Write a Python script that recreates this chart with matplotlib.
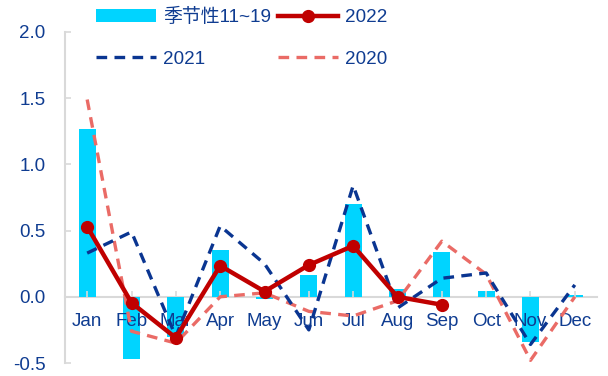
import matplotlib
matplotlib.use("Agg")
import matplotlib.pyplot as plt
import numpy as np

plt.rcParams['font.family'] = ['Liberation Sans', 'Noto Sans CJK SC', 'DejaVu Sans']

months = ["Jan", "Feb", "Mar", "Apr", "May", "Jun", "Jul", "Aug", "Sep", "Oct", "Nov", "Dec"]
seasonal = [1.27, -0.47, -0.30, 0.355, -0.02, 0.165, 0.70, 0.06, 0.34, 0.045, -0.34, 0.015]
y2022 = [0.53, -0.045, -0.31, 0.235, 0.04, 0.24, 0.385, 0.0, -0.06]
y2021 = [0.33, 0.49, -0.30, 0.535, 0.25, -0.25, 0.84, -0.085, 0.14, 0.18, -0.36, 0.09]
y2020 = [1.49, -0.26, -0.35, 0.0, 0.03, -0.11, -0.145, -0.03, 0.42, 0.17, -0.48, 0.0]

navy = '#0F3C91'
fig = plt.figure(figsize=(6.08, 3.76), dpi=100)
ax = fig.add_axes([65/608, 1-363/376, (597-65)/608, (363-32)/376])

x = np.arange(len(months))
b = ax.bar(x, seasonal, width=0.38, color='#00D4FF', zorder=1, label='季节性11~19')
l20, = ax.plot(x, y2020, color='#EA6B66', lw=2.4, ls=(0, (3.2, 2.2)), zorder=2, label='2020')
l21, = ax.plot(x, y2021, color='#0A3591', lw=2.4, ls=(0, (3.2, 2.2)), zorder=3, label='2021')
l22, = ax.plot(np.arange(len(y2022)), y2022, color='#C00000', lw=3.2, marker='o', ms=8.5, zorder=4, label='2022')

ax.set_xlim(-0.5, 11.5)
ax.set_ylim(-0.5, 2.0)
ax.set_yticks([-0.5, 0.0, 0.5, 1.0, 1.5, 2.0])
ax.set_yticklabels(['-0.5', '0.0', '0.5', '1.0', '1.5', '2.0'])
ax.set_xticks(x)
ax.set_xticklabels(months)

for s in ['top', 'right']:
    ax.spines[s].set_visible(False)
ax.spines['bottom'].set_position(('data', 0))
ax.spines['bottom'].set_color('#D9D9D9')
ax.spines['bottom'].set_linewidth(1.5)
ax.spines['left'].set_color('#D9D9D9')
ax.spines['left'].set_linewidth(1.5)
ax.spines['bottom'].set_zorder(0.5)

ax.tick_params(axis='both', direction='in', color='#D9D9D9', width=1.2, length=4,
               labelcolor=navy, labelsize=13.5)
ax.tick_params(axis='y', pad=14)
ax.tick_params(axis='x', pad=12)

fig.legend([b, l21, l22, l20], ['季节性11~19', '2021', '2022', '2020'], ncol=2,
           loc='upper left', bbox_to_anchor=(96/608, 1-8/376), frameon=False,
           fontsize=13.6, labelcolor=navy, handlelength=3.2, handletextpad=0.35,
           columnspacing=0.35, labelspacing=1.3, borderpad=0, borderaxespad=0,
           handleheight=0.7)

fig.savefig('out.png', dpi=100)
